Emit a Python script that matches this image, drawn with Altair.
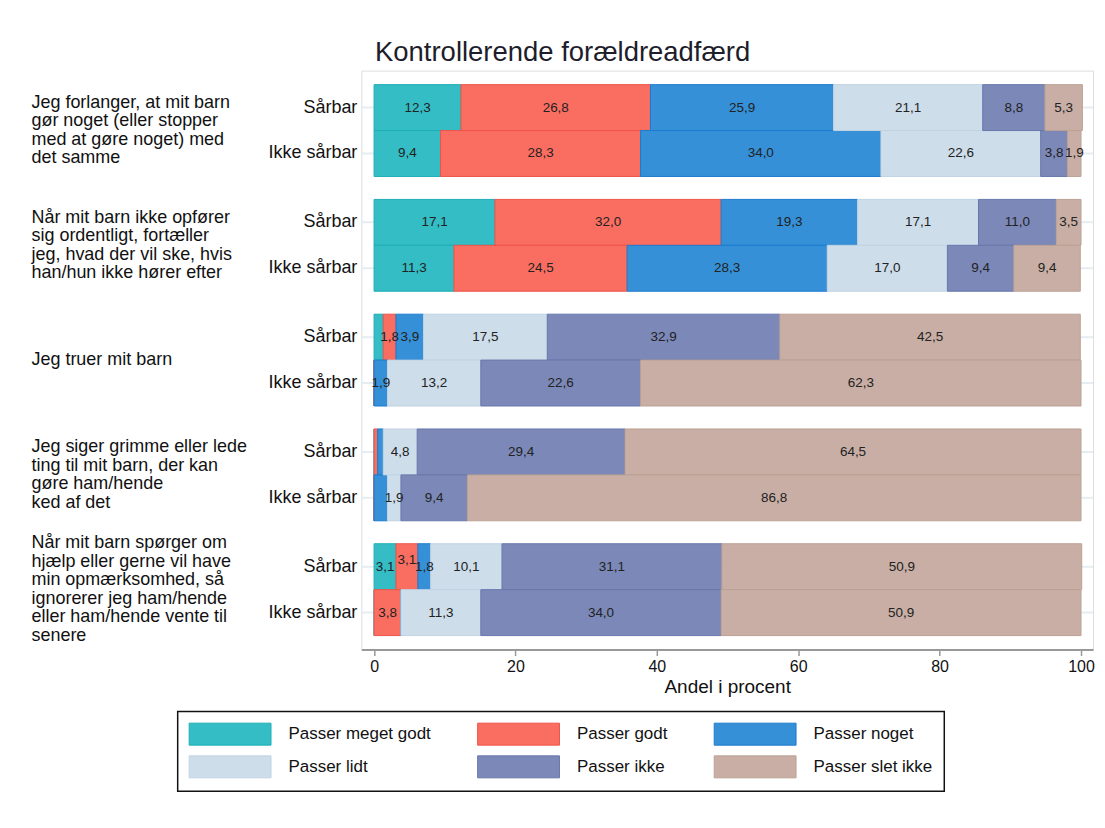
import altair as alt
import pandas as pd

items = [
    "Jeg forlanger, at mit barn\ngør noget (eller stopper\nmed at gøre noget) med\ndet samme",
    "Når mit barn ikke opfører\nsig ordentligt, fortæller\njeg, hvad der vil ske, hvis\nhan/hun ikke hører efter",
    "Jeg truer mit barn",
    "Jeg siger grimme eller lede\nting til mit barn, der kan\ngøre ham/hende\nked af det",
    "Når mit barn spørger om\nhjælp eller gerne vil have\nmin opmærksomhed, så\nignorerer jeg ham/hende\neller ham/hende vente til\nsenere",
]
groups = ["Sårbar", "Ikke sårbar"]
categories = ["Passer meget godt", "Passer godt", "Passer noget",
              "Passer lidt", "Passer ikke", "Passer slet ikke"]

# order: item1 Sårbar, item1 Ikke sårbar, item2 Sårbar, ...
passer_meget_godt = [12.3, 9.4, 17.1, 11.3, 1.3, 0.0, 0.0, 0.0, 3.1, 0.0]
passer_godt = [26.8, 28.3, 32.0, 24.5, 1.8, 0.0, 0.5, 0.0, 3.1, 3.8]
passer_noget = [25.9, 34.0, 19.3, 28.3, 3.9, 1.9, 0.8, 1.9, 1.8, 0.0]
passer_lidt = [21.1, 22.6, 17.1, 17.0, 17.5, 13.2, 4.8, 1.9, 10.1, 11.3]
passer_ikke = [8.8, 3.8, 11.0, 9.4, 32.9, 22.6, 29.4, 9.4, 31.1, 34.0]
passer_slet_ikke = [5.3, 1.9, 3.5, 9.4, 42.5, 62.3, 64.5, 86.8, 50.9, 50.9]
series = [passer_meget_godt, passer_godt, passer_noget,
          passer_lidt, passer_ikke, passer_slet_ikke]

# labels not printed in the original (overlap) / printed raised
hidden_labels = [(3, "Ikke sårbar", "Passer noget")]
raised_labels = [(4, "Sårbar", "Passer godt")]

fills = ["#34BDC5", "#FA6D61", "#3590D7", "#CDDDEA", "#7B88B8", "#C8AEA4"]
strokes = ["#1EAEB7", "#EE5449", "#1C7BCD", "#C1D3E2", "#6877AC", "#BCA195"]

rows = []
for ci, (cat, vals) in enumerate(zip(categories, series)):
    for k, v in enumerate(vals):
        i, g = divmod(k, 2)
        rows.append(dict(item=items[i], idx=i, group=groups[g], cat=cat,
                         order=ci, value=v))
df = pd.DataFrame(rows)
keys = list(zip(df["idx"], df["group"], df["cat"]))
df["show"] = [(v >= 1.5) and (k not in hidden_labels)
              for v, k in zip(df["value"], keys)]
df["raised"] = [k in raised_labels for k in keys]
df_groups = pd.DataFrame([dict(item=it, group=g) for it in items for g in groups])

W, H = 733, 580
TXT = "#111111"
LH = 18.5

x_scale = alt.Scale(domain=[-1.8, 101.7], nice=False, zero=False)
y_enc = alt.Y(
    "item:N", sort=items,
    scale=alt.Scale(paddingInner=0.2, paddingOuter=0.122),
    axis=alt.Axis(
        title=None, labelExpr="split(datum.label, '\\n')",
        labelAlign="left", labelPadding=331, ticks=False,
        domain=False, grid=False, labelFontSize=18,
        labelLineHeight=LH, labelLimit=400, labelColor=TXT,
        labelOffset={"condition": {"test": "true",
                                   "expr": f"-(length(split(datum.value, '\\n')) - 1) * {LH} / 2"},
                     "value": 0},
    ),
)
yoff = alt.YOffset("group:N", sort=groups,
                   scale=alt.Scale(paddingInner=0, paddingOuter=0))

leg = alt.Legend(
    title=None, orient="none", legendX=-184, legendY=642, columns=3,
    direction="horizontal",
    symbolType="M-3.727,-1L3.727,-1L3.727,1L-3.727,1Z", symbolSize=484,
    symbolOffset=30, symbolStrokeWidth=1, labelFontSize=17, labelOffset=47,
    labelColor=TXT, rowPadding=6, columnPadding=44, padding=11,
    strokeColor="#111111", fillColor="#ffffff", labelLimit=300,
)

base = alt.Chart(df).transform_stack(
    stack="value", groupby=["item", "group"], as_=["x0", "x1"],
    sort=[alt.SortField("order", order="ascending")],
)

grid = alt.Chart(df_groups).mark_rule(color="#e5edf2", strokeWidth=2).encode(
    x=alt.value(0), x2=alt.value(W), y=y_enc, yOffset=yoff,
)

bars = base.mark_bar(strokeWidth=1).encode(
    x=alt.X("x0:Q", scale=x_scale,
            axis=alt.Axis(values=[0, 20, 40, 60, 80, 100], title="Andel i procent",
                          grid=False, domainColor="#999999", domainWidth=2,
                          tickColor="#999999", tickSize=6, tickWidth=1.5,
                          labelFontSize=16, titleFontSize=19, labelPadding=3,
                          titlePadding=3, labelColor=TXT, titleColor=TXT,
                          titleFontWeight="normal", labelFlush=False)),
    x2="x1:Q",
    y=y_enc,
    yOffset=yoff,
    fill=alt.Fill("cat:N", scale=alt.Scale(domain=categories, range=fills), legend=leg),
    stroke=alt.Stroke("cat:N", scale=alt.Scale(domain=categories, range=strokes), legend=leg),
)

label_base = base.transform_filter("datum.show").transform_calculate(
    mid="(datum.x0 + datum.x1) / 2",
    lab="replace(format(datum.value, '.1f'), '.', ',')",
)
label_enc = dict(x="mid:Q", y=y_enc, yOffset=yoff, text="lab:N")
labels = label_base.transform_filter("!datum.raised").mark_text(
    fontSize=13.5, color="#222222").encode(**label_enc)
labels_raised = label_base.transform_filter("datum.raised").mark_text(
    fontSize=13.5, color="#222222", dy=-7).encode(**label_enc)

group_labels = alt.Chart(df_groups).mark_text(
    align="right", dx=-4, fontSize=18, color=TXT,
).encode(
    x=alt.value(0), y=y_enc, yOffset=yoff, text="group:N",
)

chart = alt.layer(grid, bars, labels, labels_raised, group_labels).properties(
    width=W, height=H,
    title=alt.Title("Kontrollerende forældreadfærd", fontSize=27.5,
                    fontWeight="normal", color="#1d1d2b", anchor="middle",
                    frame="bounds", offset=4),
    autosize=alt.AutoSizeParams(type="none"),
    padding={"left": 354, "top": 62, "right": 4, "bottom": 170},
).configure_view(stroke=None).configure(font="Liberation Sans").configure_legend(
    strokeWidth=1.5
)

chart.save("out.html", embed_options={"renderer": "svg", "actions": False})
